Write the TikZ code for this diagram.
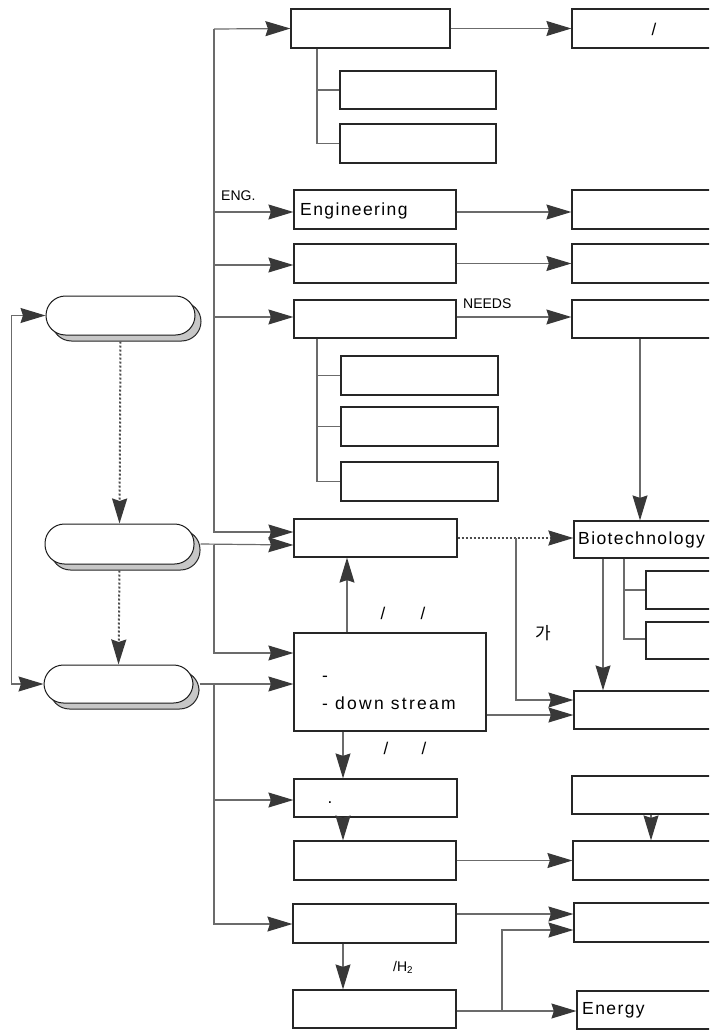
\documentclass[tikz,border=0pt]{standalone}
\usepackage{fontspec}
\setmainfont{Liberation Sans}
\newfontfamily\korfont{Noto Sans CJK KR}
\newfontfamily\spfont[LetterSpace=8]{Liberation Sans}
\newfontfamily\wspfont[LetterSpace=13]{Liberation Sans}
\usetikzlibrary{arrows.meta,shadows}
\begin{document}
\begin{tikzpicture}[x=1pt,y=-1pt,
  box/.style={draw=black!85, line width=1.2pt, fill=white, inner sep=0pt, minimum height=39pt},
  lbox/.style={box, minimum width=162pt},
  rbox/.style={box, minimum width=190pt},
  sbox/.style={box, minimum width=157pt},
  pill/.style={draw=black!90, line width=1pt, fill=white, rounded corners=19.5pt,
     minimum width=149pt, minimum height=39pt, inner sep=0pt,
     drop shadow={shadow xshift=6pt, shadow yshift=-6pt, fill=black!22, draw=black!85, opacity=1, line width=1pt}},
  tip/.tip={Stealth[length=25pt,width=15pt,inset=2.5pt,color=black!78]},
  conn/.style={draw=black!58, line width=1.2pt},
  arr/.style={conn, -tip},
  darr/.style={arr, draw=black!70, line width=2pt, dash pattern=on 2pt off 2pt},
  big/.style={font=\spfont\fontsize{17.5}{28}\selectfont, inner sep=0pt},
  small/.style={font=\fontsize{14}{16}\selectfont, inner sep=0pt},
  sl/.style={font=\fontsize{17}{20}\selectfont, inner sep=0pt}
]
\useasboundingbox (0,0) rectangle (726,1030);
\begin{scope}
\clip (0,0) rectangle (709,1030);
% left pills
\node[pill] (P1) at (120.5,315.5) {};
\node[pill, minimum height=40pt] (P2) at (119.5,544) {};
\node[pill, minimum height=38pt] (P3) at (118.5,684) {};

% left column boxes
\node[lbox, minimum width=159pt] (T1) at (370.5,28.5) {};
\node[sbox, minimum width=156pt, minimum height=38pt] (TS1) at (418,90) {};
\node[sbox, minimum width=156pt] (TS2) at (418,143.5) {};
\node[lbox] (Eng) at (375,209.5) {};
\node[lbox] (L3) at (375,263.5) {};
\node[lbox, minimum height=38pt] (L4) at (375,319) {};
\node[sbox] (S41) at (419.5,375.5) {};
\node[sbox] (S42) at (419.5,426.5) {};
\node[sbox] (S43) at (419.5,481.5) {};
\node[lbox, minimum width=163pt, minimum height=38pt] (A5) at (375.5,538) {};
\node[box, minimum width=192pt, minimum height=98pt] (B) at (390,682) {};
\node[lbox, minimum width=163pt, minimum height=38pt] (C) at (375.5,798) {};
\node[lbox] (D) at (375,860.5) {};
\node[lbox, minimum width=163pt] (E) at (374.5,923.5) {};
\node[lbox, minimum width=163pt, minimum height=38pt] (F) at (374.5,1009) {};

% right column boxes
\node[rbox] (T2) at (667,28.5) {};
\node[rbox] (R2) at (667,209.5) {};
\node[rbox] (R3) at (667,263.5) {};
\node[rbox, minimum height=38pt] (R4) at (667,319) {};
\node[rbox, minimum height=37pt] (Bio) at (669,539.5) {};
\node[box, minimum width=120pt, minimum height=38pt] (BS1) at (706,590) {};
\node[box, minimum width=120pt, minimum height=37pt] (BS2) at (706,640.5) {};
\node[rbox, minimum height=38pt] (RD) at (669,710) {};
\node[rbox, minimum height=38pt] (R6) at (667,795) {};
\node[rbox] (R7) at (668,860.5) {};
\node[rbox] (R8) at (669,922.5) {};
\node[rbox, minimum height=38pt] (En) at (672,1010) {};

% texts
\node[big, anchor=west] (tEng) at (300,211) {Engineering};
\node[big, anchor=west] (tBio) at (578,539.5) {Biotechnology};
\node[big, anchor=west] (tEn) at (582,1010) {Energy};
\node[big, font=\wspfont\fontsize{17.5}{28}\selectfont, anchor=west, align=left] (tB) at (322,693) {-\\- down stream};
\node[sl] (tT2) at (654,29) {/};
\node[small, anchor=west] (tENG) at (221,196) {ENG.};
\node[small, anchor=west] (tNEEDS) at (463,304) {NEEDS};
\node[sl] (s1) at (383,613) {/};
\node[sl] (s2) at (423,613) {/};
\node[sl] (s3) at (386,748) {/};
\node[sl] (s4) at (424,748) {/};
\node[font=\korfont\fontsize{17}{19}\selectfont, inner sep=0pt] (ga) at (543,633) {가};
\node[sl, anchor=base] (dot) at (330,803) {.};
\node[small, anchor=west] (tH2) at (393,967) {/H\textsubscript{2}};

% trunk
\coordinate (tr) at (214,29);
\draw[arr] (tr) -- (T1.west);
\draw[arr] (tr) |- ([yshift=-2.5pt]Eng.west);
\draw[arr] (tr) |- ([yshift=-1.5pt]L3.west);
\draw[arr] (tr) |- ([yshift=2pt]L4.west);
\draw[arr] (tr) |- ([yshift=6pt]A5.west);

% P2, P3 branches
\draw[arr] ([xshift=6pt]P2.east) -- ([yshift=-7pt]A5.west);
\coordinate (j2) at (214,545);
\draw[arr] (j2) |- ([yshift=29pt]B.west);
\draw[arr] ([xshift=6pt]P3.east) -- (P3.east -| B.west);
\coordinate (j3) at (214,684);
\draw[arr] (j3) |- ([yshift=-2pt]C.west);
\draw[arr] (j3) |- ([yshift=-0.5pt]E.west);

% loop and dotted
\draw[conn, tip-tip] (P1.west) -- ++(-34,0) |- (P3.west);
\draw[darr] ([yshift=-6pt]P1.south) -- (P2.north);
\draw[darr] ([yshift=-6pt]P2.south) -- (P3.north);

% sub branches
\draw[conn] ([xshift=-53.5pt]T1.south) |- (TS1.west);
\draw[conn] ([xshift=-53.5pt]T1.south) |- (TS2.west);
\draw[conn] ([xshift=-58pt]L4.south) |- (S41.west);
\draw[conn] ([xshift=-58pt]L4.south) |- (S42.west);
\draw[conn] ([xshift=-58pt]L4.south) |- (S43.west);

% horizontal to right column
\draw[arr] (T1.east) -- (T1.east -| T2.west);
\draw[arr] ([yshift=-2.5pt]Eng.east) -- ([yshift=-2.5pt]Eng.east -| R2.west);
\draw[arr] (L3.east) -- (L3.east -| R3.west);
\draw[arr] ([yshift=2pt]L4.east) -- ([yshift=2pt]L4.east -| R4.west);

% middle
\draw[arr] ([xshift=-43pt]B.north) -- ([xshift=-43pt]B.north |- A5.south);
\draw[darr] (A5.east) -- (A5.east -| Bio.west);
\coordinate (j4) at (516,538);
\draw[arr] (j4) |- ([yshift=10pt]RD.west);
\draw[arr] ([yshift=-33pt]B.east) -- ([yshift=-33pt]B.east -| RD.west);
\draw[arr] ([xshift=-27pt]R4.south) -- ([xshift=-27pt]R4.south |- Bio.north);
\draw[arr] ([xshift=-66pt]Bio.south) -- ([xshift=-66pt]Bio.south |- RD.north);
\draw[conn] ([xshift=-45pt]Bio.south) |- (BS1.west);
\draw[conn] ([xshift=-45pt]Bio.south) |- ([yshift=1.5pt]BS2.west);

% lower
\draw[arr] ([xshift=-47pt]B.south) -- ([xshift=-47pt]B.south |- C.north);
\draw[arr] ([xshift=-32.5pt]C.south) -- ([xshift=-32.5pt]C.south |- D.north);
\draw[arr] (D.east) -- (D.east -| R7.west);
\draw[arr] ([xshift=-16pt]R6.south) -- ([xshift=-16pt]R6.south |- R7.north);
\draw[arr] ([yshift=9.5pt]E.east) -- ([yshift=9.5pt]E.east -| R8.west);
\draw[arr] ([xshift=-31.5pt]E.south) -- ([xshift=-31.5pt]E.south |- F.north);
\draw[arr] ([yshift=-2pt]F.east) -- ([yshift=-2pt]F.east -| En.west);
\coordinate (j5) at (502,1011);
\draw[arr] (j5) |- ([yshift=-7.5pt]R8.west);
\end{scope}
\end{tikzpicture}
\end{document}
